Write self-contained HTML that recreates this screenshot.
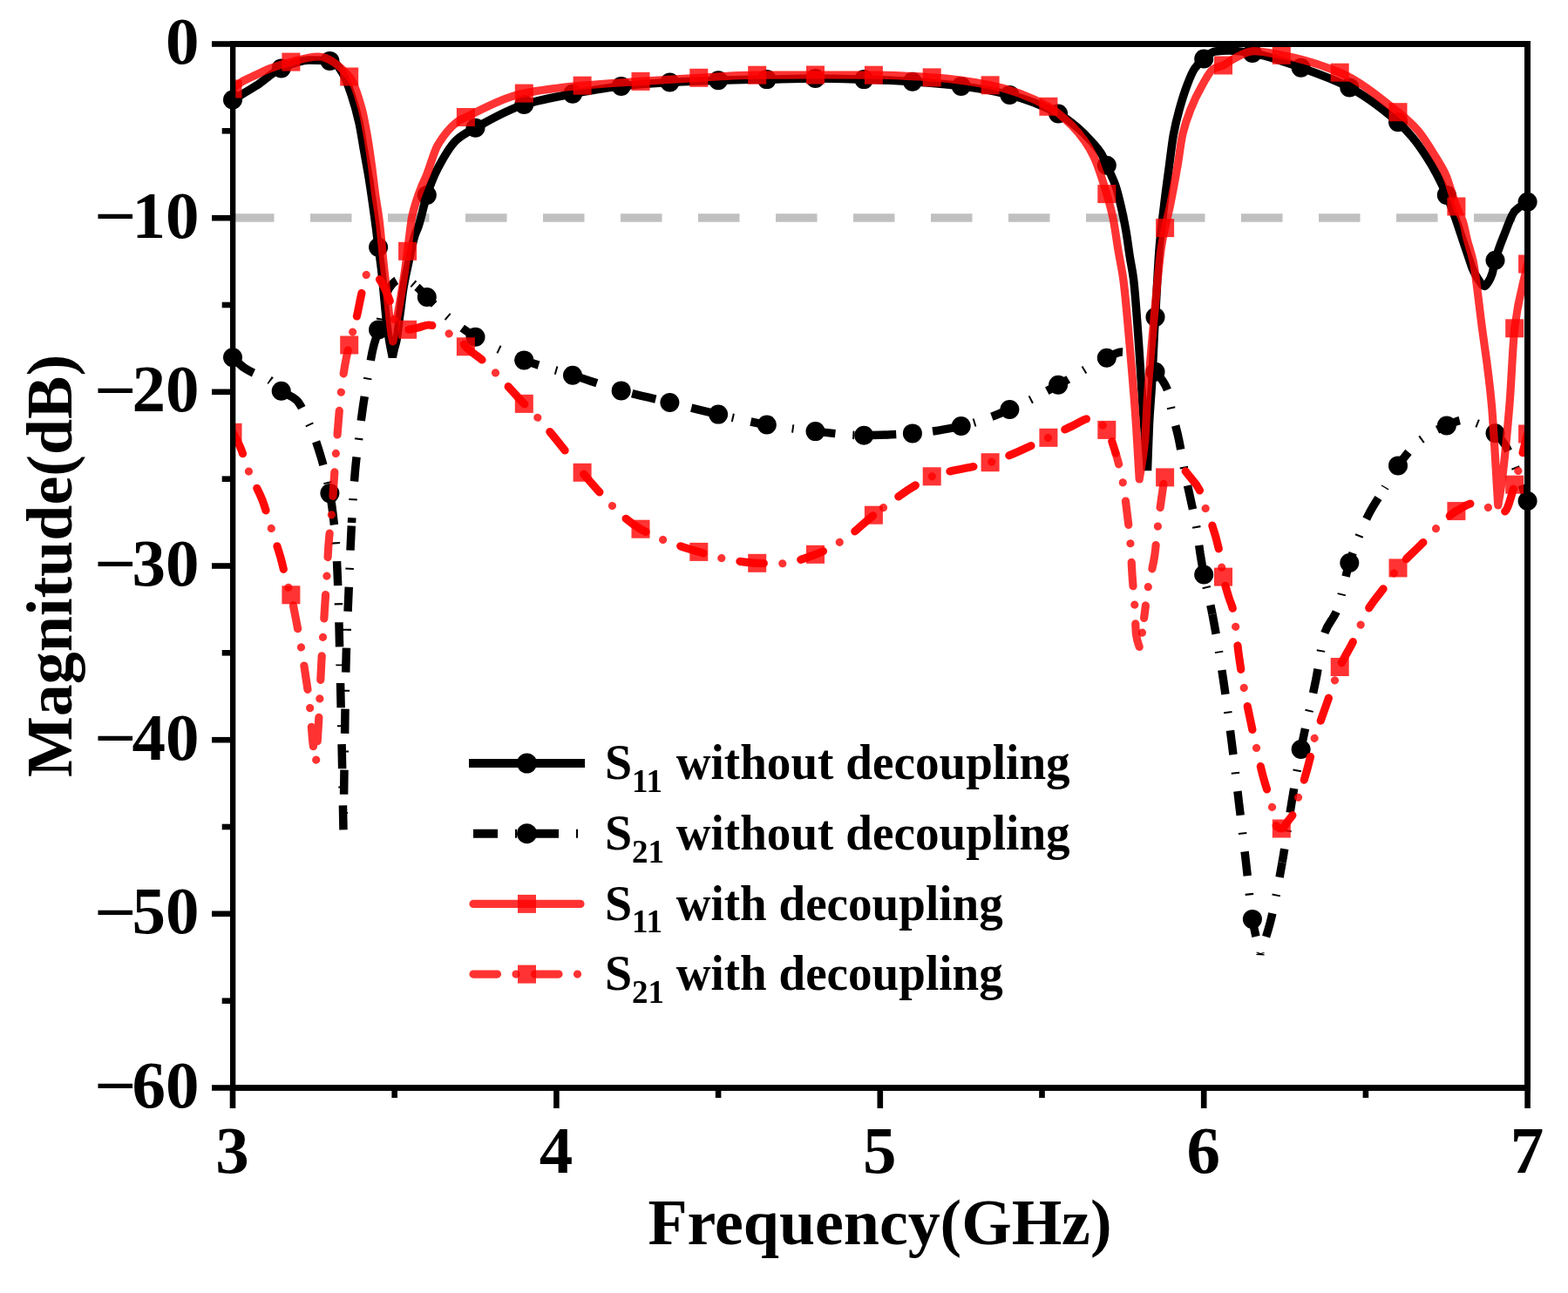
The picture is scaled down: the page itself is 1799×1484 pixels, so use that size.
<!DOCTYPE html>
<html><head><meta charset="utf-8"><title>S-parameter plot</title><style>html,body{margin:0;padding:0;background:#fff;overflow:hidden}svg{display:block}</style></head><body>
<svg width="1799" height="1484" viewBox="0 0 1799 1484">
<defs><clipPath id="cp"><rect x="270" y="54" width="1479" height="1191"/></clipPath><clipPath id="cpr"><rect x="270" y="54" width="1479" height="1191"/></clipPath></defs>
<rect width="1799" height="1484" fill="#fff"/>
<line x1="267" y1="250" x2="1752.5" y2="250" stroke="#c0c0c0" stroke-width="9.5" stroke-dasharray="47.5 41.5"/>
<path d="M267.0,114.5 C275.9,109.2 284.8,104.3 293.7,98.6 C303.4,92.4 313.0,82.5 322.7,78.4 C333.2,74.0 343.8,69.0 354.3,69.0 C362.3,69.0 370.4,69.2 378.4,69.9 C380.3,70.1 382.1,71.0 384.0,72.0 C387.0,73.7 390.0,78.8 393.0,84.0 C396.3,89.7 399.7,98.7 403.0,108.5 C406.0,117.3 409.0,127.5 412.0,141.0 C413.9,149.5 415.8,162.5 417.7,173.3 C419.6,184.1 421.5,193.9 423.4,205.6 C425.0,215.5 426.6,226.7 428.2,238.0 C429.3,245.8 430.4,253.7 431.5,262.3 C432.2,267.8 432.9,274.1 433.6,279.6 C435.0,290.4 436.3,298.5 437.7,310.4 C438.7,319.1 439.7,330.6 440.7,340.7 C441.7,350.8 442.7,362.9 443.7,371.0 C444.8,379.9 445.9,386.6 447.0,393.0 C448.1,399.4 449.2,404.3 450.3,410.0 C451.0,406.7 451.8,403.0 452.5,400.0 C453.3,396.8 454.0,395.0 454.8,391.2 C456.2,384.5 457.5,371.1 458.9,360.9 C460.2,350.9 461.6,338.7 462.9,330.6 C464.9,318.2 467.0,309.7 469.0,300.3 C471.3,289.5 473.7,277.2 476.0,270.0 C477.3,265.9 478.7,263.9 480.0,260.0 C482.5,252.8 484.9,241.3 487.4,232.4 C488.2,229.5 489.0,226.4 489.8,224.0 C493.9,211.6 498.1,201.3 502.2,193.4 C509.6,179.2 517.1,166.6 524.5,160.0 C531.5,153.8 538.6,150.6 545.6,146.7 C564.2,136.4 582.7,125.6 601.3,120.0 C619.9,114.4 638.4,111.2 657.0,107.8 C675.6,104.4 694.1,100.9 712.7,98.9 C731.3,96.9 749.8,95.5 768.4,94.5 C787.0,93.5 805.5,92.7 824.1,92.2 C842.7,91.7 861.2,91.5 879.8,91.1 C898.4,90.7 916.9,90.0 935.5,90.0 C954.1,90.0 972.6,90.6 991.2,91.1 C1009.8,91.6 1028.3,92.6 1046.9,93.8 C1065.5,95.0 1084.1,96.6 1102.7,98.9 C1121.3,101.1 1139.8,104.3 1158.4,108.9 C1177.0,113.5 1195.5,120.7 1214.1,130.5 C1221.8,134.5 1229.4,140.6 1237.1,147.1 C1242.0,151.3 1247.0,156.4 1251.9,161.9 C1255.9,166.3 1259.8,170.2 1263.8,176.7 C1266.3,180.7 1268.7,187.5 1271.2,193.1 C1274.2,199.8 1277.1,205.1 1280.1,213.8 C1282.1,219.6 1284.0,227.7 1286.0,236.1 C1288.0,244.7 1290.0,254.2 1292.0,265.7 C1293.5,274.1 1294.9,286.1 1296.4,295.4 C1297.8,304.1 1299.1,309.2 1300.5,320.0 C1302.7,337.6 1305.0,372.9 1307.2,404.3 C1308.6,424.5 1310.1,450.7 1311.5,471.7 C1313.2,496.1 1314.8,517.2 1316.5,540.0 C1317.1,522.8 1317.8,501.2 1318.4,488.5 C1319.5,466.4 1320.6,457.4 1321.7,438.0 C1322.6,421.5 1323.6,396.8 1324.5,380.0 C1324.9,372.2 1325.4,366.3 1325.8,358.8 C1326.5,347.3 1327.1,333.3 1327.8,322.0 C1328.6,308.4 1329.4,293.8 1330.2,284.3 C1331.9,263.7 1333.7,251.7 1335.4,237.2 C1337.4,220.2 1339.5,205.2 1341.5,190.0 C1343.1,177.8 1344.8,163.2 1346.4,154.3 C1348.6,142.3 1350.8,134.0 1353.0,126.0 C1356.0,115.0 1359.0,105.5 1362.0,97.7 C1364.8,90.4 1367.7,83.0 1370.5,78.9 C1374.1,73.7 1377.6,70.4 1381.2,67.5 C1385.5,64.0 1389.7,59.5 1394.0,59.0 C1399.3,58.4 1404.7,58.0 1410.0,58.0 C1419.0,58.0 1427.9,59.6 1436.9,61.0 C1455.2,63.8 1473.5,71.1 1491.8,77.4 C1510.1,83.7 1528.3,90.1 1546.6,99.5 C1564.9,108.9 1583.2,122.4 1601.5,138.1 C1607.7,143.4 1613.8,149.7 1620.0,157.0 C1625.5,163.5 1631.1,171.5 1636.6,180.0 C1640.6,186.1 1644.5,192.7 1648.5,200.2 C1652.3,207.3 1656.0,215.1 1659.8,224.0 C1663.6,232.9 1667.3,243.4 1671.1,254.1 C1673.3,260.5 1675.6,267.6 1677.8,274.3 C1680.7,283.0 1683.6,291.4 1686.5,300.0 C1687.4,302.8 1688.4,306.1 1689.3,308.3 C1691.5,313.5 1693.8,317.4 1696.0,320.5 C1698.3,323.8 1700.7,328.5 1703.0,328.5 C1704.7,328.5 1706.3,325.5 1708.0,323.0 C1709.4,320.9 1710.8,317.9 1712.2,313.5 C1713.0,310.9 1713.9,304.7 1714.7,301.5 C1718.5,287.2 1722.2,278.5 1726.0,269.0 C1730.0,259.0 1733.9,246.7 1737.9,242.3 C1742.8,236.9 1747.6,235.2 1752.5,231.7" fill="none" stroke="#000" stroke-width="9.5" stroke-linejoin="miter" stroke-miterlimit="3"/>
<g fill="#000"><circle cx="267.0" cy="114.5" r="11"/><circle cx="322.7" cy="78.4" r="11"/><circle cx="378.4" cy="69.9" r="11"/><circle cx="434.1" cy="283.7" r="11"/><circle cx="489.8" cy="223.9" r="11"/><circle cx="545.5" cy="146.7" r="11"/><circle cx="601.3" cy="120.0" r="11"/><circle cx="657.0" cy="107.8" r="11"/><circle cx="712.7" cy="98.9" r="11"/><circle cx="768.4" cy="94.5" r="11"/><circle cx="824.1" cy="92.2" r="11"/><circle cx="879.8" cy="91.1" r="11"/><circle cx="935.5" cy="90.0" r="11"/><circle cx="991.2" cy="91.1" r="11"/><circle cx="1046.9" cy="93.8" r="11"/><circle cx="1102.7" cy="98.9" r="11"/><circle cx="1158.4" cy="108.9" r="11"/><circle cx="1214.1" cy="130.5" r="11"/><circle cx="1269.8" cy="189.8" r="11"/><circle cx="1325.5" cy="363.9" r="11"/><circle cx="1381.2" cy="67.5" r="11"/><circle cx="1436.9" cy="61.0" r="11"/><circle cx="1492.6" cy="77.7" r="11"/><circle cx="1548.3" cy="100.4" r="11"/><circle cx="1604.0" cy="140.3" r="11"/><circle cx="1659.8" cy="223.9" r="11"/><circle cx="1715.5" cy="298.7" r="11"/><circle cx="1752.6" cy="231.7" r="11"/></g>
<path d="M267.0,410.3 C271.3,414.2 275.7,419.1 280.0,422.0 C285.0,425.4 290.0,427.7 295.0,430.0 C299.5,432.1 304.0,433.0 308.5,435.6 C313.2,438.3 318.0,445.4 322.7,448.8 C328.5,453.0 334.2,453.8 340.0,459.0 C345.0,463.5 350.0,475.9 355.0,487.2 C359.2,496.6 363.3,508.2 367.5,522.0 C371.1,534.0 374.8,546.9 378.4,566.0 C379.6,572.3 380.8,580.3 382.0,590.0 C383.1,599.2 384.3,609.1 385.4,625.0 C386.3,637.2 387.1,655.7 388.0,680.0 C388.7,698.7 389.3,731.8 390.0,760.0 C390.7,788.2 391.3,818.0 392.0,850.0 C392.7,882.0 393.3,918.7 394.0,953.0 C394.5,918.7 395.0,882.0 395.5,850.0 C396.0,818.0 396.5,779.3 397.0,760.0 C398.0,721.4 399.0,704.7 400.0,680.0 C401.2,651.2 402.3,621.2 403.5,600.0" fill="none" stroke="#000" stroke-width="9.5" stroke-dasharray="28 20 2 20" stroke-linejoin="bevel" stroke-dashoffset="-2.00"/>
<path d="M403.5,600.0 C404.8,575.7 406.2,554.7 407.5,540.0 C408.9,524.5 410.3,514.9 411.7,503.4 C413.1,491.6 414.6,479.9 416.0,470.0 C417.9,456.6 419.9,445.5 421.8,434.2 C423.9,422.2 425.9,408.9 428.0,400.0 C430.0,391.3 432.1,386.8 434.1,378.5 C436.1,370.5 438.0,357.1 440.0,350.0 C442.3,341.6 444.7,333.1 447.0,330.0 C450.7,325.1 454.3,321.0 458.0,321.0 C461.3,321.0 464.7,321.4 468.0,322.0 C471.3,322.6 474.7,326.2 478.0,329.0" fill="none" stroke="#000" stroke-width="9.5" stroke-dasharray="28 20 2 20" stroke-linejoin="bevel" stroke-dashoffset="932.44"/>
<path d="M478.0,329.0 C481.9,332.2 485.9,337.1 489.8,341.0 C497.1,348.2 504.3,355.7 511.6,361.8 C522.9,371.3 534.3,380.0 545.6,386.7 C564.2,397.6 582.7,406.4 601.3,413.4 C619.9,420.4 638.4,424.9 657.0,430.7 C675.6,436.5 694.1,443.3 712.7,448.4 C731.3,453.5 749.8,457.5 768.4,462.0 C787.0,466.5 805.5,471.4 824.1,475.6 C842.7,479.8 861.2,484.4 879.8,487.5 C898.4,490.6 916.9,493.2 935.5,495.1 C954.1,497.0 972.6,499.7 991.2,499.7 C1009.8,499.7 1028.3,498.6 1046.9,497.4 C1065.5,496.2 1084.1,492.9 1102.7,489.0 C1121.3,485.1 1139.8,477.6 1158.4,470.0 C1177.0,462.4 1195.5,451.7 1214.1,441.8 C1232.7,431.9 1251.2,419.0 1269.8,410.7 C1275.5,408.1 1281.3,404.0 1287.0,404.0 C1293.0,404.0 1299.0,407.2 1305.0,410.0 C1311.8,413.2 1318.7,419.3 1325.5,426.7 C1330.3,431.9 1335.2,436.0 1340.0,449.0 C1341.2,452.1 1342.3,462.3 1343.5,467.8 C1346.3,481.1 1349.2,488.9 1352.0,502.0 C1354.7,514.3 1357.3,531.7 1360.0,545.0 C1362.0,555.0 1364.0,563.6 1366.0,573.0 C1368.3,584.0 1370.7,592.9 1373.0,606.5 C1374.3,614.3 1375.7,626.4 1377.0,635.0 C1378.4,644.0 1379.8,652.1 1381.2,659.5 C1384.5,676.6 1387.7,688.0 1391.0,705.0" fill="none" stroke="#000" stroke-width="9.5" stroke-dasharray="28 20 2 20" stroke-linejoin="bevel" stroke-dashoffset="1259.40"/>
<path d="M1391.0,705.0 C1395.2,726.7 1399.3,752.2 1403.5,780.0 C1406.7,801.1 1409.8,825.5 1413.0,850.5 C1415.8,872.6 1418.6,897.3 1421.4,920.9 C1424.2,944.2 1426.9,967.4 1429.7,991.3 C1432.1,1012.1 1434.5,1040.5 1436.9,1054.8 C1439.9,1072.9 1443.0,1081.6 1446.0,1095.0 C1449.8,1083.0 1453.5,1073.5 1457.3,1058.9 C1461.9,1041.1 1466.5,1015.7 1471.1,989.9" fill="none" stroke="#000" stroke-width="9.5" stroke-dasharray="28 20 2 20" stroke-linejoin="bevel" stroke-dashoffset="2454.83"/>
<path d="M1471.1,989.9 C1474.8,969.1 1478.5,941.7 1482.2,919.5 C1485.7,898.7 1489.1,878.0 1492.6,860.1 C1498.3,830.4 1504.1,808.6 1509.8,780.0 C1513.2,763.1 1516.6,735.5 1520.0,726.0 C1524.6,713.3 1529.1,712.2 1533.7,701.0 C1538.6,689.1 1543.4,661.0 1548.3,646.1 C1555.5,623.9 1562.8,605.4 1570.0,591.0 C1576.2,578.6 1582.5,570.4 1588.7,560.0" fill="none" stroke="#000" stroke-width="9.5" stroke-dasharray="28 20 2 20" stroke-linejoin="bevel" stroke-dashoffset="2952.15"/>
<path d="M1588.7,560.0 C1593.8,551.5 1599.0,541.3 1604.1,534.3 C1612.7,522.5 1621.4,511.5 1630.0,505.0 C1639.9,497.6 1649.9,492.5 1659.8,488.5 C1666.5,485.8 1673.3,482.0 1680.0,482.0 C1685.8,482.0 1691.7,484.8 1697.5,487.0 C1703.5,489.3 1709.5,492.5 1715.5,497.2 C1719.3,500.2 1723.2,505.1 1727.0,511.0 C1731.3,517.7 1735.7,529.2 1740.0,540.0 C1744.2,550.4 1748.3,563.3 1752.5,575.0" fill="none" stroke="#000" stroke-width="9.5" stroke-dasharray="28 20 2 20" stroke-linejoin="bevel" stroke-dashoffset="3408.58"/>
<g fill="#000"><circle cx="267.0" cy="410.3" r="11"/><circle cx="322.7" cy="448.8" r="11"/><circle cx="378.4" cy="566.1" r="11"/><circle cx="434.1" cy="378.4" r="11"/><circle cx="489.8" cy="341.0" r="11"/><circle cx="545.5" cy="386.7" r="11"/><circle cx="601.3" cy="413.4" r="11"/><circle cx="657.0" cy="430.7" r="11"/><circle cx="712.7" cy="448.4" r="11"/><circle cx="768.4" cy="462.0" r="11"/><circle cx="824.1" cy="475.6" r="11"/><circle cx="879.8" cy="487.5" r="11"/><circle cx="935.5" cy="495.1" r="11"/><circle cx="991.2" cy="499.7" r="11"/><circle cx="1046.9" cy="497.4" r="11"/><circle cx="1102.7" cy="489.0" r="11"/><circle cx="1158.4" cy="470.0" r="11"/><circle cx="1214.1" cy="441.8" r="11"/><circle cx="1269.8" cy="410.7" r="11"/><circle cx="1325.5" cy="426.7" r="11"/><circle cx="1381.2" cy="659.5" r="11"/><circle cx="1436.9" cy="1054.9" r="11"/><circle cx="1492.6" cy="860.0" r="11"/><circle cx="1548.3" cy="646.0" r="11"/><circle cx="1604.0" cy="534.4" r="11"/><circle cx="1659.8" cy="488.5" r="11"/><circle cx="1715.5" cy="497.2" r="11"/><circle cx="1752.6" cy="575.0" r="11"/></g>
<g clip-path="url(#cpr)" opacity="0.8">
<path d="M267.0,102.0 C270.7,99.2 274.3,95.7 278.0,93.5 C283.2,90.4 288.5,88.4 293.7,86.0 C298.9,83.6 304.0,80.9 309.2,78.9 C317.6,75.7 326.0,73.0 334.4,71.0 C344.6,68.5 354.9,65.0 365.1,65.0 C377.2,65.0 389.4,74.9 401.5,88.9 C406.0,94.1 410.6,108.5 415.1,124.7 C417.3,132.4 419.4,144.5 421.6,157.0 C423.2,166.2 424.8,177.7 426.4,189.4 C427.8,199.4 429.1,211.8 430.5,221.8 C432.1,233.5 433.7,241.3 435.3,254.2 C436.8,266.6 438.4,285.6 439.9,300.3 C441.0,310.8 442.1,320.5 443.2,330.6 C444.3,340.7 445.4,351.0 446.5,360.9 C447.3,368.4 448.2,377.8 449.0,383.0 C449.6,386.8 450.2,389.0 450.8,392.0 C451.4,389.0 452.0,386.3 452.6,383.0 C453.2,379.5 453.9,374.8 454.5,371.0 C456.3,360.2 458.1,351.5 459.9,340.7 C461.5,331.3 463.0,321.3 464.6,310.4 C465.6,303.4 466.6,295.5 467.6,288.0 C469.3,275.0 471.1,256.6 472.8,248.5 C476.6,230.9 480.3,222.7 484.1,213.0 C485.8,208.7 487.4,205.7 489.1,201.7 C493.5,191.1 497.8,174.2 502.2,166.7 C509.6,154.0 517.1,145.4 524.5,140.0 C527.8,137.6 531.1,136.1 534.4,134.5 C556.7,123.6 579.0,111.6 601.3,107.1 C623.6,102.6 645.8,100.3 668.1,98.2 C690.4,96.1 712.7,94.9 735.0,93.4 C757.3,91.9 779.5,90.5 801.8,89.3 C824.1,88.1 846.4,86.3 868.7,86.2 C891.0,86.1 913.2,86.0 935.5,86.0 C957.8,86.0 980.1,86.1 1002.4,86.2 C1024.7,86.3 1046.9,87.5 1069.2,88.9 C1091.5,90.3 1113.8,93.4 1136.1,97.8 C1158.4,102.1 1180.6,110.4 1202.9,122.3 C1211.8,127.1 1220.8,135.3 1229.7,144.1 C1234.6,149.0 1239.6,154.9 1244.5,161.9 C1248.0,166.8 1251.4,172.4 1254.9,179.7 C1259.9,190.2 1264.8,206.0 1269.8,222.7 C1272.2,230.9 1274.7,239.2 1277.1,250.9 C1279.1,260.5 1281.1,276.1 1283.1,288.0 C1285.0,299.1 1286.8,306.5 1288.7,320.0 C1291.4,339.6 1294.1,373.5 1296.8,404.3 C1299.0,429.8 1301.3,456.1 1303.5,488.5 C1304.7,506.4 1306.0,529.5 1307.2,550.0 C1309.4,535.1 1311.5,528.3 1313.7,505.4 C1314.6,495.5 1315.6,468.6 1316.5,454.8 C1318.4,427.2 1320.2,408.7 1322.1,387.4 C1324.2,363.8 1326.2,340.1 1328.3,320.0 C1329.6,307.0 1331.0,293.1 1332.3,284.3 C1333.7,274.8 1335.2,268.7 1336.6,261.8 C1338.5,252.9 1340.3,246.1 1342.2,237.2 C1345.2,223.0 1348.1,207.1 1351.1,190.0 C1353.0,179.0 1354.9,162.5 1356.8,154.3 C1359.8,141.4 1362.8,133.6 1365.8,126.0 C1370.3,114.5 1374.9,105.5 1379.4,97.7 C1383.7,90.4 1387.9,81.3 1392.2,78.9 C1396.0,76.8 1399.7,76.7 1403.5,75.0 C1407.3,73.3 1411.0,69.7 1414.8,67.8 C1422.5,63.9 1430.3,58.7 1438.0,58.7 C1448.8,58.7 1459.6,61.3 1470.4,63.3 C1492.7,67.4 1514.9,74.0 1537.2,83.2 C1559.5,92.4 1581.8,110.7 1604.1,128.7 C1611.7,134.9 1619.4,141.2 1627.0,150.0 C1633.7,157.7 1640.4,169.1 1647.1,180.0 C1650.9,186.2 1654.7,191.8 1658.5,200.2 C1662.6,209.3 1666.8,226.5 1670.9,237.0 C1673.4,243.4 1675.9,246.5 1678.4,254.1 C1680.0,258.9 1681.5,268.1 1683.1,274.3 C1685.5,283.7 1687.8,288.7 1690.2,300.0 C1693.4,315.3 1696.6,347.0 1699.8,371.7 C1703.6,401.3 1707.5,422.1 1711.3,463.5 C1713.8,490.5 1716.3,541.2 1718.8,580.0 C1720.1,571.7 1721.5,564.9 1722.8,555.0 C1725.9,532.1 1728.9,500.8 1732.0,463.5 C1733.9,440.0 1735.9,391.9 1737.8,376.3 C1742.7,336.7 1747.6,327.4 1752.5,303.0" fill="none" stroke="#f00" stroke-width="9.2" stroke-linecap="round" stroke-linejoin="round"/>
</g>
<g clip-path="url(#cpr)" fill="#f00" fill-opacity="0.8"><rect x="256.5" y="91.5" width="21" height="21"/><rect x="323.4" y="60.6" width="21" height="21"/><rect x="390.2" y="77.5" width="21" height="21"/><rect x="457.1" y="277.8" width="21" height="21"/><rect x="523.9" y="124.0" width="21" height="21"/><rect x="590.8" y="96.6" width="21" height="21"/><rect x="657.6" y="87.7" width="21" height="21"/><rect x="724.5" y="82.9" width="21" height="21"/><rect x="791.3" y="78.8" width="21" height="21"/><rect x="858.2" y="75.7" width="21" height="21"/><rect x="925.0" y="75.5" width="21" height="21"/><rect x="991.9" y="75.7" width="21" height="21"/><rect x="1058.7" y="78.4" width="21" height="21"/><rect x="1125.6" y="87.3" width="21" height="21"/><rect x="1192.4" y="111.8" width="21" height="21"/><rect x="1259.3" y="212.1" width="21" height="21"/><rect x="1326.1" y="251.1" width="21" height="21"/><rect x="1393.0" y="64.5" width="21" height="21"/><rect x="1459.8" y="52.8" width="21" height="21"/><rect x="1526.7" y="72.7" width="21" height="21"/><rect x="1593.5" y="118.2" width="21" height="21"/><rect x="1660.4" y="226.5" width="21" height="21"/><rect x="1727.2" y="366.3" width="21" height="21"/><rect x="1742.1" y="292.5" width="21" height="21"/></g>
<g clip-path="url(#cpr)" opacity="0.96">
<path d="M267.0,496.3 C270.0,502.2 273.0,507.0 276.0,514.0 C279.1,521.2 282.2,533.1 285.3,540.8 C290.5,553.7 295.8,560.6 301.0,574.0 C304.5,583.1 308.1,596.4 311.6,607.5 C315.1,618.4 318.5,627.8 322.0,640.0 C324.6,649.2 327.2,662.6 329.8,671.2" fill="none" stroke="#f00" stroke-width="9.2" stroke-linecap="round" stroke-linejoin="round" stroke-dasharray="27.5 43" stroke-dashoffset="0.50"/>
<path d="M400.7,396.0 C403.6,383.9 406.5,375.4 409.4,363.0" fill="none" stroke="#f00" stroke-width="9.2" stroke-linecap="round" stroke-linejoin="round" stroke-dasharray="27.5 43" stroke-dashoffset="879.59"/>
<path d="M409.4,363.0 C411.1,355.6 412.9,345.8 414.6,338.0 C416.3,330.2 418.1,318.4 419.8,316.0 C421.9,313.1 423.9,311.0 426.0,311.0 C429.0,311.0 432.0,316.0 435.0,320.0 C439.4,325.8 443.7,334.6 448.1,347.9 C449.5,352.3 451.0,364.2 452.4,366.8 C454.9,371.4 457.5,373.4 460.0,375.0 C462.5,376.6 465.1,378.3 467.6,378.3 C471.7,378.3 475.9,376.9 480.0,376.0 C484.0,375.1 488.0,373.0 492.0,373.0 C495.7,373.0 499.3,374.6 503.0,376.0 C506.7,377.4 510.5,380.3 514.2,382.4 C519.3,385.3 524.3,386.6 529.4,391.0 C531.1,392.4 532.7,396.0 534.4,397.8 C540.8,404.7 547.3,407.9 553.7,413.6 C558.4,417.8 563.1,422.4 567.8,427.2 C579.0,438.5 590.1,451.8 601.3,463.4 C606.1,468.4 610.8,472.7 615.6,477.9 C629.3,492.9 643.1,510.7 656.8,527.9" fill="none" stroke="#f00" stroke-width="9.2" stroke-linecap="round" stroke-linejoin="round" stroke-dasharray="27.5 43" stroke-dashoffset="916.72"/>
<path d="M656.8,527.9 C660.6,532.6 664.3,538.0 668.1,542.3 C690.4,567.7 712.7,594.7 735.0,607.2 C757.3,619.6 779.5,626.7 801.8,633.4 C814.5,637.2 827.3,641.0 840.0,643.0 C849.6,644.5 859.1,646.0 868.7,646.3 C877.8,646.6 886.9,646.8 896.0,646.8 C909.2,646.8 922.3,641.0 935.5,636.3 C947.0,632.2 958.5,625.5 970.0,618.0 C980.8,611.0 991.6,599.5 1002.4,591.2" fill="none" stroke="#f00" stroke-width="9.2" stroke-linecap="round" stroke-linejoin="round" stroke-dasharray="27.5 43" stroke-dashoffset="1318.78"/>
<path d="M1002.4,591.2 C1017.9,579.2 1033.5,567.2 1049.0,557.8" fill="none" stroke="#f00" stroke-width="9.2" stroke-linecap="round" stroke-linejoin="round" stroke-dasharray="27.5 43" stroke-dashoffset="1727.06"/>
<path d="M1049.0,557.8 C1055.7,553.7 1062.5,549.2 1069.2,546.8 C1091.5,538.8 1113.8,537.6 1136.1,530.7 C1158.4,523.9 1180.6,512.5 1202.9,502.3 C1211.9,498.1 1221.0,493.1 1230.0,489.0 C1237.1,485.8 1244.2,480.0 1251.3,480.0 C1257.5,480.0 1263.6,486.0 1269.8,493.4 C1273.2,497.5 1276.6,509.1 1280.0,520.0" fill="none" stroke="#f00" stroke-width="9.2" stroke-linecap="round" stroke-linejoin="round" stroke-dasharray="27.5 43" stroke-dashoffset="1788.42"/>
<path d="M1343.0,537.0 C1347.0,537.0 1351.0,537.0 1355.0,537.0 C1358.3,537.0 1361.7,543.2 1365.0,547.0 C1368.8,551.4 1372.6,555.1 1376.4,562.7 C1378.4,566.6 1380.3,575.8 1382.3,581.3 C1384.7,587.9 1387.0,592.2 1389.4,599.0 C1392.4,607.6 1395.3,616.4 1398.3,630.0 C1400.0,637.9 1401.8,654.1 1403.5,662.2 C1405.7,672.3 1407.8,678.9 1410.0,686.0 C1411.7,691.5 1413.3,693.8 1415.0,701.0 C1417.1,710.2 1419.3,737.3 1421.4,752.5 C1423.3,765.8 1425.1,777.7 1427.0,788.3 C1429.3,801.2 1431.5,811.9 1433.8,822.9 C1436.3,835.0 1438.8,846.3 1441.3,857.4 C1443.9,868.8 1446.4,880.7 1449.0,890.5 C1452.4,903.4 1455.8,912.2 1459.2,925.0 C1461.1,932.3 1463.1,947.7 1465.0,949.0 C1466.8,950.2 1468.6,951.0 1470.4,951.0 C1472.9,951.0 1475.5,945.3 1478.0,942.0 C1480.3,939.0 1482.6,936.9 1484.9,932.0 C1486.6,928.5 1488.2,919.4 1489.9,914.0 C1491.9,907.4 1494.0,902.6 1496.0,896.0 C1498.7,887.1 1501.5,876.9 1504.2,865.6 C1505.6,859.8 1507.0,851.3 1508.4,846.3 C1510.7,838.1 1513.0,833.5 1515.3,827.0 C1518.5,817.9 1521.8,808.6 1525.0,799.4 C1527.3,792.9 1529.5,786.3 1531.8,780.0 C1533.6,775.0 1535.4,769.6 1537.2,765.5 C1542.3,753.7 1547.5,746.6 1552.6,736.0 C1555.5,730.1 1558.3,723.1 1561.2,717.0 C1564.1,710.8 1567.1,703.9 1570.0,699.0 C1576.2,688.6 1582.5,682.2 1588.7,673.6 C1593.8,666.5 1599.0,658.0 1604.1,651.8 C1613.5,640.5 1622.8,633.1 1632.2,623.2 C1637.1,618.0 1642.1,612.0 1647.0,607.2 C1655.0,599.5 1662.9,591.2 1670.9,586.6 C1677.8,582.6 1684.8,577.4 1691.7,577.4 C1697.4,577.4 1703.2,580.7 1708.9,583.1 C1712.6,584.6 1716.3,589.0 1720.0,589.0 C1722.1,589.0 1724.2,588.2 1726.3,587.2 C1730.1,585.4 1734.0,568.5 1737.8,556.0 C1739.2,551.4 1740.6,545.3 1742.0,539.8 C1745.5,526.1 1749.0,511.9 1752.5,498.0" fill="none" stroke="#f00" stroke-width="9.2" stroke-linecap="round" stroke-linejoin="round" stroke-dasharray="27.5 43" stroke-dashoffset="2519.38"/>
</g>
<g clip-path="url(#cpr)" opacity="0.80">
<path d="M329.8,671.2 C331.2,675.7 332.5,678.1 333.9,683.0 C335.6,689.1 337.3,699.3 339.0,708.0 C341.2,719.1 343.3,730.3 345.5,743.0 C347.3,753.7 349.2,765.4 351.0,778.0 C352.5,788.5 354.1,797.5 355.6,812.0 C356.6,821.1 357.5,838.6 358.5,848.0" fill="none" stroke="#f00" stroke-width="9.2" stroke-linecap="round" stroke-linejoin="round" stroke-dasharray="27.5 43" stroke-dashoffset="186.92"/>
<path d="M358.5,848.0 C359.3,856.1 360.2,863.2 361.0,868.0 C361.5,870.9 362.0,872.7 362.5,875.0 C363.5,860.0 364.5,847.6 365.5,830.0 C366.5,812.4 367.5,784.8 368.5,766.0 C369.9,739.6 371.3,718.5 372.7,696.0 C373.5,683.7 374.2,672.7 375.0,660.0 C375.7,649.0 376.3,633.8 377.0,625.0 C378.1,610.4 379.2,603.9 380.3,591.0 C382.0,571.1 383.7,541.6 385.4,520.0 C387.4,494.5 389.4,467.2 391.4,450.0 C393.1,435.4 394.8,424.2 396.5,415.0 C397.9,407.4 399.3,401.8 400.7,396.0" fill="none" stroke="#f00" stroke-width="9.2" stroke-linecap="round" stroke-linejoin="round" stroke-dasharray="27.5 43" stroke-dashoffset="371.40"/>
<path d="M1280.0,520.0 C1282.8,529.0 1285.6,539.4 1288.4,554.5 C1290.2,564.0 1291.9,578.8 1293.7,593.5 C1294.8,602.7 1295.9,610.7 1297.0,624.5 C1297.7,632.9 1298.3,649.7 1299.0,659.5 C1299.9,673.3 1300.9,680.1 1301.8,694.6 C1302.4,703.4 1302.9,724.0 1303.5,728.0 C1305.0,738.6 1306.5,739.3 1308.0,745.0 C1309.5,733.1 1311.1,721.2 1312.6,709.4" fill="none" stroke="#f00" stroke-width="9.2" stroke-linecap="round" stroke-linejoin="round" stroke-dasharray="27.5 43" stroke-dashoffset="2058.61"/>
<path d="M1312.6,709.4 C1314.2,697.4 1315.7,683.1 1317.3,673.7 C1319.8,658.9 1322.2,654.2 1324.7,638.0 C1325.9,629.9 1327.2,614.3 1328.4,604.0 C1329.8,592.0 1331.3,580.5 1332.7,571.0 C1334.0,562.3 1335.3,551.6 1336.6,548.0 C1338.7,542.1 1340.9,537.0 1343.0,537.0" fill="none" stroke="#f00" stroke-width="9.2" stroke-linecap="round" stroke-linejoin="round" stroke-dasharray="27.5 43" stroke-dashoffset="2339.43"/>
</g>
<g clip-path="url(#cpr)" opacity="0.8">
<path d="M267.0,496.3 C270.0,502.2 273.0,507.0 276.0,514.0 C279.1,521.2 282.2,533.1 285.3,540.8 C290.5,553.7 295.8,560.6 301.0,574.0 C304.5,583.1 308.1,596.4 311.6,607.5 C315.1,618.4 318.5,627.8 322.0,640.0 C324.6,649.2 327.2,662.6 329.8,671.2" fill="none" stroke="#f00" stroke-width="9.2" stroke-linecap="round" stroke-linejoin="round" stroke-dasharray="0.01 70.49" stroke-dashoffset="22.00"/>
<path d="M329.8,671.2 C331.2,675.7 332.5,678.1 333.9,683.0 C335.6,689.1 337.3,699.3 339.0,708.0 C341.2,719.1 343.3,730.3 345.5,743.0 C347.3,753.7 349.2,765.4 351.0,778.0 C352.5,788.5 354.1,797.5 355.6,812.0 C356.6,821.1 357.5,838.6 358.5,848.0" fill="none" stroke="#f00" stroke-width="9.2" stroke-linecap="round" stroke-linejoin="round" stroke-dasharray="0.01 70.49" stroke-dashoffset="208.42"/>
<path d="M358.5,848.0 C359.3,856.1 360.2,863.2 361.0,868.0 C361.5,870.9 362.0,872.7 362.5,875.0 C363.5,860.0 364.5,847.6 365.5,830.0 C366.5,812.4 367.5,784.8 368.5,766.0 C369.9,739.6 371.3,718.5 372.7,696.0 C373.5,683.7 374.2,672.7 375.0,660.0 C375.7,649.0 376.3,633.8 377.0,625.0 C378.1,610.4 379.2,603.9 380.3,591.0 C382.0,571.1 383.7,541.6 385.4,520.0 C387.4,494.5 389.4,467.2 391.4,450.0 C393.1,435.4 394.8,424.2 396.5,415.0 C397.9,407.4 399.3,401.8 400.7,396.0" fill="none" stroke="#f00" stroke-width="9.2" stroke-linecap="round" stroke-linejoin="round" stroke-dasharray="0.01 70.49" stroke-dashoffset="392.90"/>
<path d="M400.7,396.0 C403.6,383.9 406.5,375.4 409.4,363.0" fill="none" stroke="#f00" stroke-width="9.2" stroke-linecap="round" stroke-linejoin="round" stroke-dasharray="0.01 70.49" stroke-dashoffset="901.09"/>
<path d="M409.4,363.0 C411.1,355.6 412.9,345.8 414.6,338.0 C416.3,330.2 418.1,318.4 419.8,316.0 C421.9,313.1 423.9,311.0 426.0,311.0 C429.0,311.0 432.0,316.0 435.0,320.0 C439.4,325.8 443.7,334.6 448.1,347.9 C449.5,352.3 451.0,364.2 452.4,366.8 C454.9,371.4 457.5,373.4 460.0,375.0 C462.5,376.6 465.1,378.3 467.6,378.3 C471.7,378.3 475.9,376.9 480.0,376.0 C484.0,375.1 488.0,373.0 492.0,373.0 C495.7,373.0 499.3,374.6 503.0,376.0 C506.7,377.4 510.5,380.3 514.2,382.4 C519.3,385.3 524.3,386.6 529.4,391.0 C531.1,392.4 532.7,396.0 534.4,397.8 C540.8,404.7 547.3,407.9 553.7,413.6 C558.4,417.8 563.1,422.4 567.8,427.2 C579.0,438.5 590.1,451.8 601.3,463.4 C606.1,468.4 610.8,472.7 615.6,477.9 C629.3,492.9 643.1,510.7 656.8,527.9" fill="none" stroke="#f00" stroke-width="9.2" stroke-linecap="round" stroke-linejoin="round" stroke-dasharray="0.01 70.49" stroke-dashoffset="938.22"/>
<path d="M656.8,527.9 C660.6,532.6 664.3,538.0 668.1,542.3 C690.4,567.7 712.7,594.7 735.0,607.2 C757.3,619.6 779.5,626.7 801.8,633.4 C814.5,637.2 827.3,641.0 840.0,643.0 C849.6,644.5 859.1,646.0 868.7,646.3 C877.8,646.6 886.9,646.8 896.0,646.8 C909.2,646.8 922.3,641.0 935.5,636.3 C947.0,632.2 958.5,625.5 970.0,618.0 C980.8,611.0 991.6,599.5 1002.4,591.2" fill="none" stroke="#f00" stroke-width="9.2" stroke-linecap="round" stroke-linejoin="round" stroke-dasharray="0.01 70.49" stroke-dashoffset="1340.28"/>
<path d="M1002.4,591.2 C1017.9,579.2 1033.5,567.2 1049.0,557.8" fill="none" stroke="#f00" stroke-width="9.2" stroke-linecap="round" stroke-linejoin="round" stroke-dasharray="0.01 70.49" stroke-dashoffset="1748.56"/>
<path d="M1049.0,557.8 C1055.7,553.7 1062.5,549.2 1069.2,546.8 C1091.5,538.8 1113.8,537.6 1136.1,530.7 C1158.4,523.9 1180.6,512.5 1202.9,502.3 C1211.9,498.1 1221.0,493.1 1230.0,489.0 C1237.1,485.8 1244.2,480.0 1251.3,480.0 C1257.5,480.0 1263.6,486.0 1269.8,493.4 C1273.2,497.5 1276.6,509.1 1280.0,520.0" fill="none" stroke="#f00" stroke-width="9.2" stroke-linecap="round" stroke-linejoin="round" stroke-dasharray="0.01 70.49" stroke-dashoffset="1809.92"/>
<path d="M1280.0,520.0 C1282.8,529.0 1285.6,539.4 1288.4,554.5 C1290.2,564.0 1291.9,578.8 1293.7,593.5 C1294.8,602.7 1295.9,610.7 1297.0,624.5 C1297.7,632.9 1298.3,649.7 1299.0,659.5 C1299.9,673.3 1300.9,680.1 1301.8,694.6 C1302.4,703.4 1302.9,724.0 1303.5,728.0 C1305.0,738.6 1306.5,739.3 1308.0,745.0 C1309.5,733.1 1311.1,721.2 1312.6,709.4" fill="none" stroke="#f00" stroke-width="9.2" stroke-linecap="round" stroke-linejoin="round" stroke-dasharray="0.01 70.49" stroke-dashoffset="2080.11"/>
<path d="M1312.6,709.4 C1314.2,697.4 1315.7,683.1 1317.3,673.7 C1319.8,658.9 1322.2,654.2 1324.7,638.0 C1325.9,629.9 1327.2,614.3 1328.4,604.0 C1329.8,592.0 1331.3,580.5 1332.7,571.0 C1334.0,562.3 1335.3,551.6 1336.6,548.0 C1338.7,542.1 1340.9,537.0 1343.0,537.0" fill="none" stroke="#f00" stroke-width="9.2" stroke-linecap="round" stroke-linejoin="round" stroke-dasharray="0.01 70.49" stroke-dashoffset="2360.93"/>
<path d="M1343.0,537.0 C1347.0,537.0 1351.0,537.0 1355.0,537.0 C1358.3,537.0 1361.7,543.2 1365.0,547.0 C1368.8,551.4 1372.6,555.1 1376.4,562.7 C1378.4,566.6 1380.3,575.8 1382.3,581.3 C1384.7,587.9 1387.0,592.2 1389.4,599.0 C1392.4,607.6 1395.3,616.4 1398.3,630.0 C1400.0,637.9 1401.8,654.1 1403.5,662.2 C1405.7,672.3 1407.8,678.9 1410.0,686.0 C1411.7,691.5 1413.3,693.8 1415.0,701.0 C1417.1,710.2 1419.3,737.3 1421.4,752.5 C1423.3,765.8 1425.1,777.7 1427.0,788.3 C1429.3,801.2 1431.5,811.9 1433.8,822.9 C1436.3,835.0 1438.8,846.3 1441.3,857.4 C1443.9,868.8 1446.4,880.7 1449.0,890.5 C1452.4,903.4 1455.8,912.2 1459.2,925.0 C1461.1,932.3 1463.1,947.7 1465.0,949.0 C1466.8,950.2 1468.6,951.0 1470.4,951.0 C1472.9,951.0 1475.5,945.3 1478.0,942.0 C1480.3,939.0 1482.6,936.9 1484.9,932.0 C1486.6,928.5 1488.2,919.4 1489.9,914.0 C1491.9,907.4 1494.0,902.6 1496.0,896.0 C1498.7,887.1 1501.5,876.9 1504.2,865.6 C1505.6,859.8 1507.0,851.3 1508.4,846.3 C1510.7,838.1 1513.0,833.5 1515.3,827.0 C1518.5,817.9 1521.8,808.6 1525.0,799.4 C1527.3,792.9 1529.5,786.3 1531.8,780.0 C1533.6,775.0 1535.4,769.6 1537.2,765.5 C1542.3,753.7 1547.5,746.6 1552.6,736.0 C1555.5,730.1 1558.3,723.1 1561.2,717.0 C1564.1,710.8 1567.1,703.9 1570.0,699.0 C1576.2,688.6 1582.5,682.2 1588.7,673.6 C1593.8,666.5 1599.0,658.0 1604.1,651.8 C1613.5,640.5 1622.8,633.1 1632.2,623.2 C1637.1,618.0 1642.1,612.0 1647.0,607.2 C1655.0,599.5 1662.9,591.2 1670.9,586.6 C1677.8,582.6 1684.8,577.4 1691.7,577.4 C1697.4,577.4 1703.2,580.7 1708.9,583.1 C1712.6,584.6 1716.3,589.0 1720.0,589.0 C1722.1,589.0 1724.2,588.2 1726.3,587.2 C1730.1,585.4 1734.0,568.5 1737.8,556.0 C1739.2,551.4 1740.6,545.3 1742.0,539.8 C1745.5,526.1 1749.0,511.9 1752.5,498.0" fill="none" stroke="#f00" stroke-width="9.2" stroke-linecap="round" stroke-linejoin="round" stroke-dasharray="0.01 70.49" stroke-dashoffset="2540.88"/>
</g>
<g clip-path="url(#cpr)" fill="#f00" fill-opacity="0.8"><rect x="256.5" y="485.8" width="21" height="21"/><rect x="323.4" y="672.3" width="21" height="21"/><rect x="390.2" y="385.5" width="21" height="21"/><rect x="457.1" y="367.8" width="21" height="21"/><rect x="523.9" y="387.3" width="21" height="21"/><rect x="590.8" y="452.9" width="21" height="21"/><rect x="657.6" y="531.8" width="21" height="21"/><rect x="724.5" y="596.7" width="21" height="21"/><rect x="791.3" y="622.9" width="21" height="21"/><rect x="858.2" y="635.8" width="21" height="21"/><rect x="925.0" y="625.8" width="21" height="21"/><rect x="991.9" y="580.7" width="21" height="21"/><rect x="1058.7" y="536.3" width="21" height="21"/><rect x="1125.6" y="520.2" width="21" height="21"/><rect x="1192.4" y="491.8" width="21" height="21"/><rect x="1259.3" y="482.9" width="21" height="21"/><rect x="1326.1" y="537.4" width="21" height="21"/><rect x="1393.0" y="651.6" width="21" height="21"/><rect x="1459.8" y="940.5" width="21" height="21"/><rect x="1526.7" y="755.0" width="21" height="21"/><rect x="1593.5" y="641.4" width="21" height="21"/><rect x="1660.4" y="576.1" width="21" height="21"/><rect x="1727.2" y="545.7" width="21" height="21"/><rect x="1742.1" y="487.5" width="21" height="21"/></g>
<g fill="#000">
<rect x="264" y="47" width="1492" height="7"/>
<rect x="264" y="1245" width="1492" height="7"/>
<rect x="264" y="47" width="6.3" height="1205"/>
<rect x="1749" y="47" width="7" height="1205"/>
<rect x="243" y="47.2" width="22" height="6.6"/>
<rect x="243" y="246.9" width="22" height="6.6"/>
<rect x="243" y="446.5" width="22" height="6.6"/>
<rect x="243" y="646.2" width="22" height="6.6"/>
<rect x="243" y="845.9" width="22" height="6.6"/>
<rect x="243" y="1045.5" width="22" height="6.6"/>
<rect x="243" y="1245.2" width="22" height="6.6"/>
<rect x="254.7" y="147.0" width="10" height="6.6"/>
<rect x="254.7" y="346.7" width="10" height="6.6"/>
<rect x="254.7" y="546.4" width="10" height="6.6"/>
<rect x="254.7" y="746.0" width="10" height="6.6"/>
<rect x="254.7" y="945.7" width="10" height="6.6"/>
<rect x="254.7" y="1145.4" width="10" height="6.6"/>
<rect x="263.7" y="1250" width="6.6" height="22"/>
<rect x="635.1" y="1250" width="6.6" height="22"/>
<rect x="1006.5" y="1250" width="6.6" height="22"/>
<rect x="1377.9" y="1250" width="6.6" height="22"/>
<rect x="1749.3" y="1250" width="6.6" height="22"/>
<rect x="449.4" y="1250" width="6.6" height="10"/>
<rect x="820.8" y="1250" width="6.6" height="10"/>
<rect x="1192.2" y="1250" width="6.6" height="10"/>
<rect x="1563.6" y="1250" width="6.6" height="10"/>
</g>
<g font-family="&apos;Liberation Serif&apos;, &apos;Times New Roman&apos;, serif" font-weight="bold" font-size="77" fill="#000">
<text x="228.4" y="72.9" text-anchor="end">0</text>
<text x="228.4" y="272.6" text-anchor="end"><tspan dy="-6.6">&#x2013;</tspan><tspan dy="6.6">10</tspan></text>
<text x="228.4" y="472.2" text-anchor="end"><tspan dy="-6.6">&#x2013;</tspan><tspan dy="6.6">20</tspan></text>
<text x="228.4" y="671.9" text-anchor="end"><tspan dy="-6.6">&#x2013;</tspan><tspan dy="6.6">30</tspan></text>
<text x="228.4" y="871.6" text-anchor="end"><tspan dy="-6.6">&#x2013;</tspan><tspan dy="6.6">40</tspan></text>
<text x="228.4" y="1071.2" text-anchor="end"><tspan dy="-6.6">&#x2013;</tspan><tspan dy="6.6">50</tspan></text>
<text x="228.4" y="1270.9" text-anchor="end"><tspan dy="-6.6">&#x2013;</tspan><tspan dy="6.6">60</tspan></text>
<text x="266.5" y="1345.8" text-anchor="middle">3</text>
<text x="637.9" y="1345.8" text-anchor="middle">4</text>
<text x="1009.3" y="1345.8" text-anchor="middle">5</text>
<text x="1380.7" y="1345.8" text-anchor="middle">6</text>
<text x="1752.1" y="1345.8" text-anchor="middle">7</text>
</g>
<text x="1009.5" y="1427.7" text-anchor="middle" font-family="&apos;Liberation Serif&apos;, &apos;Times New Roman&apos;, serif" font-weight="bold" font-size="74.2" textLength="532" lengthAdjust="spacingAndGlyphs">Frequency(GHz)</text>
<text transform="translate(81.8,649.5) rotate(-90)" x="0" y="0" text-anchor="middle" font-family="&apos;Liberation Serif&apos;, &apos;Times New Roman&apos;, serif" font-weight="bold" font-size="74">Magnitude(dB)</text>
<line x1="538" y1="876.0" x2="671" y2="876.0" stroke="#000" stroke-width="10"/>
<circle cx="604.5" cy="876.0" r="11.5"/>
<line x1="543" y1="956.7" x2="671" y2="956.7" stroke="#000" stroke-width="10" stroke-dasharray="28 20 2 20"/>
<circle cx="604.5" cy="956.7" r="11.5"/>
<g opacity="0.8"><line x1="543" y1="1037.4" x2="666" y2="1037.4" stroke="#f00" stroke-width="9.2" stroke-linecap="round"/></g>
<rect x="594.0" y="1026.9" width="21" height="21" fill="#f00" fill-opacity="0.8"/>
<g opacity="0.8"><line x1="543" y1="1118.1" x2="671" y2="1118.1" stroke="#f00" stroke-width="9.2" stroke-linecap="round" stroke-dasharray="27.5 21.5 0.01 21.5"/></g>
<rect x="594.0" y="1107.6" width="21" height="21" fill="#f00" fill-opacity="0.8"/>
<g font-family="&apos;Liberation Serif&apos;, &apos;Times New Roman&apos;, serif" font-weight="bold" fill="#000">
<text x="693.9" y="894.3" font-size="56">S<tspan font-size="37" dy="14.6">11</tspan></text>
<text x="775.7" y="894.3" font-size="56" textLength="452" lengthAdjust="spacingAndGlyphs">without decoupling</text>
<text x="693.9" y="975.0" font-size="56">S<tspan font-size="37" dy="14.6">21</tspan></text>
<text x="775.7" y="975.0" font-size="56" textLength="452" lengthAdjust="spacingAndGlyphs">without decoupling</text>
<text x="693.9" y="1055.7" font-size="56">S<tspan font-size="37" dy="14.6">11</tspan></text>
<text x="775.7" y="1055.7" font-size="56" textLength="375" lengthAdjust="spacingAndGlyphs">with decoupling</text>
<text x="693.9" y="1136.4" font-size="56">S<tspan font-size="37" dy="14.6">21</tspan></text>
<text x="775.7" y="1136.4" font-size="56" textLength="375" lengthAdjust="spacingAndGlyphs">with decoupling</text>
</g>
</svg>
</body></html>
